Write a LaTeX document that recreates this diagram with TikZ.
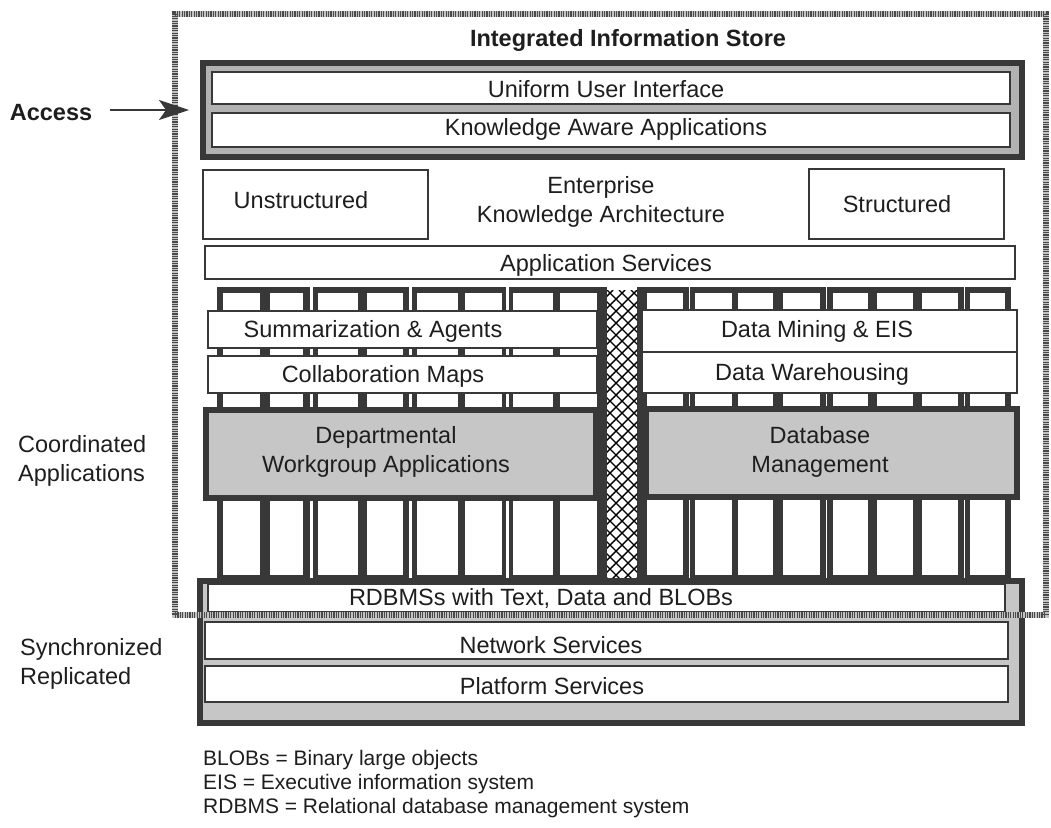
\documentclass[tikz,border=0pt]{standalone}
\usepackage{fontspec}
\setmainfont{Liberation Sans}
\usetikzlibrary{arrows.meta}

\definecolor{ink}{HTML}{1E1E1E}
\definecolor{dark}{HTML}{383838}
\definecolor{stip}{HTML}{C6C6C6}
\definecolor{stipring}{HTML}{B2B2B2}
\definecolor{framegray}{HTML}{4A4A4A}
\definecolor{framebase}{HTML}{C2C2C2}

% box from corner (x1,y1) to corner (x2,y2), y measured downwards
\newcommand\rbox[6]{%
  \node[#1, anchor=north west, minimum width={#5pt-#3pt}, minimum height={#6pt-#4pt}] (#2) at (#3,#4) {};}

\tikzset{
  lbl/.style={font=\fontsize{23.5}{29}\selectfont, text=ink, inner sep=0pt, align=center},
  boldlbl/.style={lbl, font=\fontsize{23.5}{29}\selectfont\bfseries},
  sidelbl/.style={lbl, align=left, anchor=west},
  legendlbl/.style={font=\fontsize{21}{24}\selectfont, text=ink, inner sep=0pt, anchor=west},
  wbox/.style={draw=dark, line width=1.6pt, fill=white, inner sep=0pt, outer sep=0pt},
  heavybox/.style={draw=dark, line width=6pt, fill=stip, inner sep=0pt, outer sep=0pt},
  ringbox/.style={heavybox, fill=stipring},
  storebase/.style={draw=framebase, line width=6pt, inner sep=0pt, outer sep=0pt},
  storeframe/.style={draw=framegray, line width=6pt, dash pattern=on 1.2pt off 1.2pt, inner sep=0pt, outer sep=0pt},
  accarrow/.style={draw=dark, line width=1.6pt, -{Stealth[length=30pt, width=20pt, inset=7pt]}},
  hatchline/.style={draw=black, line width=1.4pt},
}

\begin{document}
\begin{tikzpicture}[x=1pt, y=-1pt]
\useasboundingbox (0,0) rectangle (1051,827);
\fill[white] (0,0) rectangle (1051,827);

% access layer
\rbox{ringbox}{topbox}{203}{63}{1022}{157}
\rbox{wbox}{ui}{212}{72}{1010}{104}
\rbox{wbox}{kaa}{212}{113}{1010}{147}
\node[lbl] (uitxt) at (606,89) {Uniform User Interface};
\node[lbl] (kaatxt) at (606,129) {Knowledge Aware Applications};

% architecture row
\rbox{wbox}{unstr}{203}{170}{428}{239}
\rbox{wbox}{str}{809}{169}{1004}{239}
\node[lbl] (unstrtxt) at (301,200) {Unstructured};
\node[lbl] (strtxt) at (897,204) {Structured};
\node[lbl] (ekatxt) at (601,202) {Enterprise\\Knowledge Architecture};

\rbox{wbox}{appsvc}{205}{246}{1015}{279}
\node[lbl] (appsvctxt) at (606,265) {Application Services};

% column grid
\foreach \a/\b in {217/310, 313/409, 412/506, 509/607, 637/689, 690/826, 827/964, 965/1011}
  \fill[dark] (\a,287) rectangle (\b,581);
\foreach \a/\b in {223/260, 270/303, 318/358, 367/403, 417/458, 465/502, 513/553, 560/597,
                   647/683, 695/732, 738/773, 783/820, 833/868, 877/913, 922/958, 970/1005}
  \fill[white] (\a,293) rectangle (\b,575);

% cross-hatched spine
\fill[white] (607,290) rectangle (637,581);
\begin{scope}
  \clip (607,290) rectangle (637,581);
  \foreach \k in {-312,-300,...,48} {
    \draw[hatchline] (607+\k,290) -- ++(300,300);
    \draw[hatchline] (637-\k,290) -- ++(-300,300);
  }
\end{scope}

% application boxes
\rbox{wbox}{summ}{208}{311}{597}{348}
\rbox{wbox}{collab}{208}{356}{597}{393}
\rbox{wbox}{mining}{642}{310}{1017}{352}
\rbox{wbox}{wareh}{642}{352}{1017}{393}
\node[lbl] (summtxt) at (373,331) {Summarization \& Agents};
\node[lbl] (collabtxt) at (383,376) {Collaboration Maps};
\node[lbl] (miningtxt) at (817,331) {Data Mining \& EIS};
\node[lbl] (warehtxt) at (812,374) {Data Warehousing};

\rbox{heavybox}{dept}{205.5}{409.5}{595.5}{497.5}
\rbox{heavybox}{dbm}{645.5}{408.5}{1016.5}{496.5}
\node[lbl] (depttxt) at (386,452) {Departmental\\Workgroup Applications};
\node[lbl] (dbmtxt) at (820,452) {Database\\Management};

% infrastructure block
\rbox{heavybox}{infra}{200}{581}{1022}{723}
\rbox{wbox}{rdbms}{208}{584}{1005}{612}
\rbox{wbox}{netsvc}{205}{622}{1008}{659}
\rbox{wbox}{platsvc}{205}{666}{1008}{702}
\node[lbl] (rdbmstxt) at (541,598) {RDBMSs with Text, Data and BLOBs};
\node[lbl] (netsvctxt) at (551,645) {Network Services};
\node[lbl] (platsvctxt) at (552,686) {Platform Services};

% integrated store boundary: light band with a dark stipple over it
\rbox{storebase}{storebg}{175}{14}{1046}{615}
\rbox{storeframe}{store}{175}{14}{1046}{615}
\node[boldlbl] (storetitle) at (628,40) {Integrated Information Store};

% side labels
\node[boldlbl] (access) at (51,113) {Access};
\coordinate (acctip) at (189,110);
\draw[accarrow] ([xshift=18pt]access.east |- acctip) -- (acctip);
\node[sidelbl] (coord) at (18,461) {Coordinated\\Applications};
\node[sidelbl] (sync) at (20,664) {Synchronized\\Replicated};

% abbreviations
\node[legendlbl] (leg1) at (203,760) {BLOBs = Binary large objects};
\node[legendlbl] (leg2) at (203,784) {EIS = Executive information system};
\node[legendlbl] (leg3) at (203,808) {RDBMS = Relational database management system};
\end{tikzpicture}
\end{document}
